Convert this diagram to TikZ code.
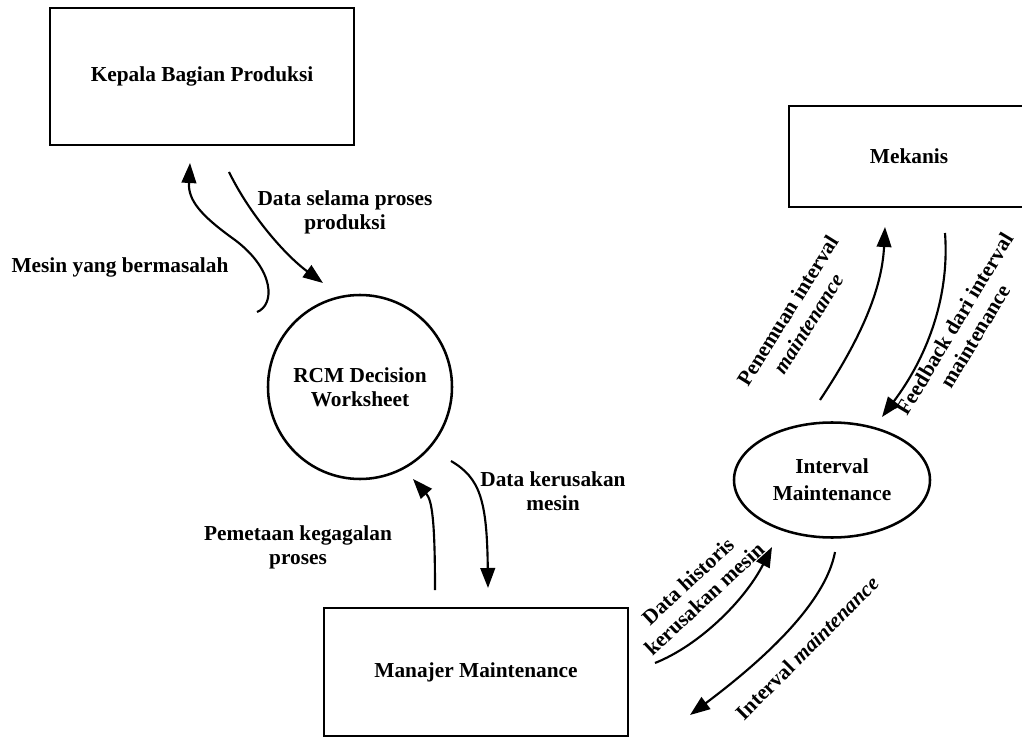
\documentclass[tikz,border=0pt]{standalone}
\usepackage{fontspec}
\setmainfont{Liberation Serif}
\usetikzlibrary{shapes.geometric, arrows.meta}
\tikzset{
    entity/.style={rectangle, draw, line width=1.9pt, align=center, font=\fontsize{16}{18}\selectfont\bfseries},
    process/.style={draw, line width=1.9pt, inner sep=0pt, align=center, font=\fontsize{16}{18}\selectfont\bfseries},
    flowlabel/.style={align=center, inner sep=0pt, font=\fontsize{16}{18}\selectfont\bfseries},
    arrow/.style={line width=1.6pt, -{Triangle[length=15pt, width=11pt]}}
}

\begin{document}
\begin{tikzpicture}[x=0.75pt, y=-0.75pt]
            \useasboundingbox (0,0) rectangle (1022,738);

            \node[entity, minimum width=228pt, minimum height=102.75pt] (kepala) at (202,76.5) {Kepala Bagian Produksi};
            \node[entity, minimum width=180pt, minimum height=75.75pt] (mekanis) at (909,156.5) {Mekanis};
            \node[entity, minimum width=228pt, minimum height=96pt] (manajer) at (476,672) {Manajer Maintenance};
            \node[process, circle, minimum size=138pt] (rcm) at (360,387) {RCM Decision\\Worksheet};
            \node[process, ellipse, minimum width=147pt, minimum height=86.25pt] (interval) at (832,480) {Interval\\[2pt]Maintenance};

            % ends of the flows
            \coordinate (mesinstart) at (257,312);
            \coordinate (mesinmid) at (235,240);
            \coordinate (mesinend) at (190,163);
            \coordinate (selamastart) at (229,172);
            \coordinate (selamaend) at (323,283);
            \coordinate (pemetaanstart) at (435,590);
            \coordinate (pemetaanend) at (413,479);
            \coordinate (kerusakanstart) at (451,461);
            \coordinate (kerusakanend) at (488,588);
            \coordinate (historisstart) at (655,663);
            \coordinate (historisend) at (772,547);
            \coordinate (jadwalstart) at (835,552);
            \coordinate (jadwalend) at (690,715);
            \coordinate (penemuanstart) at (820,400);
            \coordinate (penemuanend) at (885,227);
            \coordinate (feedbackstart) at (945,233);
            \coordinate (feedbackend) at (882,417);

            \draw[arrow] (mesinstart) .. controls (275,305) and (275,270) .. (mesinmid)
                .. controls (200,215) and (188,200) .. (mesinend);
            \draw[arrow] (selamastart) .. controls (250,215) and (285,255) .. (selamaend);
            \draw[arrow] (pemetaanstart) .. controls (435,520) and (432,500) .. (pemetaanend);
            \draw[arrow] (kerusakanstart) .. controls (480,478) and (487,500) .. (kerusakanend);
            \draw[arrow] (historisstart) .. controls (700,645) and (745,600) .. (historisend);
            \draw[arrow] (jadwalstart) .. controls (828,590) and (790,640) .. (jadwalend);
            \draw[arrow] (penemuanstart) .. controls (860,340) and (882,290) .. (penemuanend);
            \draw[arrow] (feedbackstart) .. controls (950,300) and (925,360) .. (feedbackend);

            \node[flowlabel] (mesinlabel) at (120,267) {Mesin yang bermasalah};
            \node[flowlabel] (selamalabel) at (345,212) {Data selama proses\\produksi};
            \node[flowlabel] (kerusakanlabel) at (553,491) {Data kerusakan\\mesin};
            \node[flowlabel] (pemetaanlabel) at (298,547) {Pemetaan kegagalan\\proses};
            \node[flowlabel, rotate=43] (historislabel) at (696,590) {Data historis\\kerusakan mesin};
            \node[flowlabel, rotate=45] (jadwallabel) at (807,648) {Interval \textit{maintenance}};
            \node[flowlabel, rotate=58] (penemuanlabel) at (798,317) {Penemuan interval\\\textit{maintenance}};
            \node[flowlabel, rotate=59] (feedbacklabel) at (965,330) {Feedback dari interval\\maintenance};
        \end{tikzpicture}
\end{document}
